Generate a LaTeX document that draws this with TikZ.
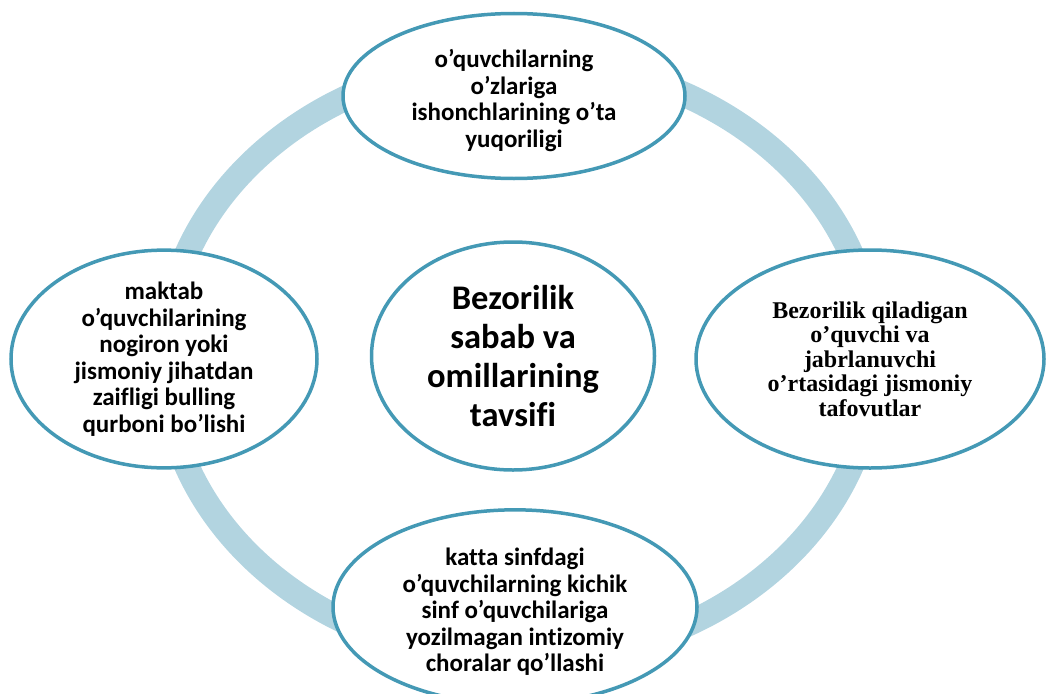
\documentclass[tikz,border=0pt]{standalone}
\usepackage{fontspec}
\setmainfont[Ligatures=NoCommon]{Carlito}
\newfontfamily\timesfont{Liberation Serif}
\usepackage{tikz}
\usetikzlibrary{shapes.geometric}
\definecolor{ringblue}{RGB}{178,212,224}
\definecolor{edgeblue}{RGB}{68,153,181}
\newcommand{\lowstrut}{\rule{0pt}{1.1em}}

\begin{document}
\begin{tikzpicture}[x=1pt,y=-1pt,
    oval/.style={ellipse, draw=edgeblue, line width=3.5pt, fill=white, inner sep=0pt, align=center,
                 font=\bfseries\fontsize{25}{26.5}\selectfont}]
  \useasboundingbox (0,0) rectangle (1046,693);

     % Anneau
  \draw[ringblue, line width=25pt] (519,360) ellipse [x radius=355, y radius=300];

     % Centre
  \node[oval, minimum width=283pt, minimum height=228pt, font=\bfseries\fontsize{34.5}{39}\selectfont] (0) at (513,356)
    {Bezorilik\\sabab va\\omillarining\\tavsifi};

     % Ellipses autour
  \node[oval, minimum width=342pt, minimum height=165pt] (1) at (514,96)
    {\lowstrut o’quvchilarning\\o’zlariga\\ishonchlarining o’ta\\yuqoriligi};
  \node[oval, minimum width=348pt, minimum height=218pt, font=\timesfont\bfseries\fontsize{24}{24.5}\selectfont] (2) at (870,359)
    {Bezorilik qiladigan\\o’quvchi va\\jabrlanuvchi\\o’rtasidagi jismoniy\\tafovutlar};
  \node[oval, minimum width=364pt, minimum height=169pt] (3) at (515,607)
    {\lowstrut katta sinfdagi\\o’quvchilarning kichik\\sinf o’quvchilariga\\yozilmagan intizomiy\\choralar qo’llashi};
  \node[oval, minimum width=306pt, minimum height=188pt] (4) at (164,359)
    {maktab\\o’quvchilarining\\nogiron yoki\\jismoniy jihatdan\\zaifligi bulling\\qurboni bo’lishi};

\end{tikzpicture}
\end{document}
